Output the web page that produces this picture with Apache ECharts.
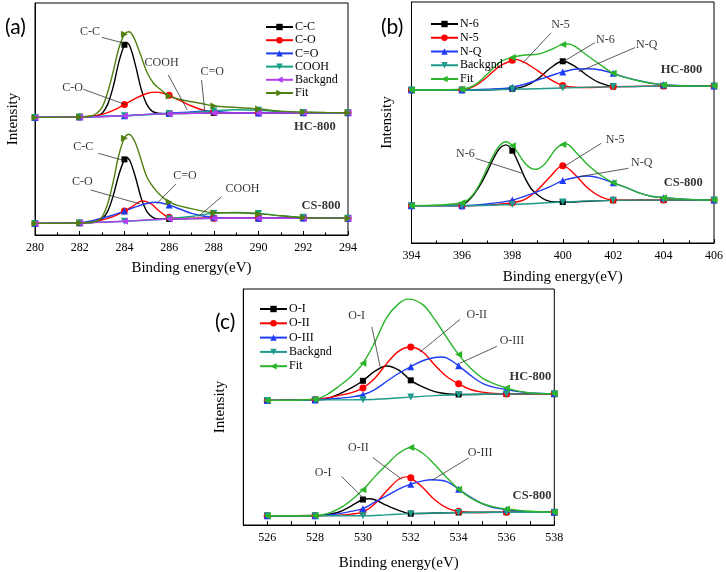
<!DOCTYPE html>
<html><head><meta charset="utf-8">
<script src="https://cdn.jsdelivr.net/npm/echarts@6/dist/echarts.min.js"></script>
<style>html,body{margin:0;padding:0;background:#fff}#c{width:726px;height:572px}</style>
</head><body><div id="c"></div>
<script>
// ---------- Panel (a): C1s ----------
const a_names = ['C-C','C-O','C=O','COOH','Backgnd','Fit'];
const a_HC_CC = [[280,50.7],[282,50.9],[282.5,51.0],[282.75,51.3],[283,52.5],[283.25,56.3],[283.5,64.0],[283.75,74.5],[284,82.0],[284.1,82.8],[284.25,81.2],[284.5,72.9],[284.75,62.9],[285,56.3],[285.25,53.3],[285.5,52.5],[285.75,52.3],[286,52.3],[288,52.6],[290,52.6],[292,52.7],[294,52.7]];
const a_HC_CO = [[280,50.7],[282,50.9],[282.5,51.2],[283,52.0],[283.5,53.7],[284,56.2],[284.5,58.9],[285,61.0],[285.4,61.6],[285.75,61.1],[286,60.2],[286.5,57.9],[287,55.6],[287.5,53.9],[288,53.0],[288.5,52.7],[289,52.6],[290,52.6],[292,52.7],[294,52.7]];
const a_HC_CdO = [[280,50.7],[282,50.9],[284,51.4],[285,52.0],[286,52.5],[287,53.0],[287.7,53.5],[288,53.3],[288.5,52.9],[289,52.6],[290,52.6],[292,52.7],[294,52.7]];
const a_HC_COOH = [[280,50.7],[282,50.9],[284,51.4],[286,52.3],[287,52.7],[288,53.5],[289,54.0],[290,53.8],[291,53.2],[292,52.8],[294,52.7]];
const a_HC_BG = [[280,50.7],[282,50.9],[283,51.0],[284,51.4],[285,52.0],[286,52.3],[288,52.6],[290,52.6],[292,52.7],[294,52.7]];
const a_HC_FIT = [[280,50.7],[282,50.9],[282.5,51.3],[282.75,52.4],[283,55.0],[283.25,61.5],[283.5,70.5],[283.75,80.5],[284,86.5],[284.2,87.6],[284.4,85.5],[284.7,78.3],[285,70.4],[285.3,65.4],[285.6,62.8],[286,59.9],[286.6,58.2],[287.4,56.8],[288,55.6],[289,55.0],[290,54.3],[291,53.4],[292,53.0],[293,52.8],[294,52.7]];
const a_CS_CC = [[280,5.0],[282,5.2],[282.5,5.3],[282.75,5.7],[283,6.9],[283.25,10.2],[283.5,17.0],[283.75,26.0],[284,32.6],[284.1,33.3],[284.25,31.9],[284.5,24.7],[284.75,15.9],[285,10.2],[285.25,7.7],[285.5,6.9],[286,6.9],[288,7.2],[290,7.2],[292,7.3],[294,7.2]];
const a_CS_CO = [[280,5.0],[282,5.2],[282.5,5.6],[283,6.5],[283.5,7.9],[284,10.3],[284.4,12.6],[284.8,14.7],[285.2,13.4],[285.5,10.8],[285.8,8.6],[286,7.6],[286.5,7.2],[288,7.2],[290,7.2],[292,7.3],[294,7.2]];
const a_CS_CdO = [[280,5.0],[282,5.3],[283,7.2],[283.5,8.6],[284,10.3],[284.5,12.1],[285,13.6],[285.4,14.1],[286,12.9],[286.5,11.1],[287,9.3],[287.5,8.2],[288,7.6],[289,7.2],[290,7.2],[292,7.3],[294,7.2]];
const a_CS_COOH = [[280,5.0],[282,5.2],[284,5.9],[286,7.0],[287,8.0],[288,9.3],[289,9.7],[290,9.3],[291,8.3],[292,7.6],[293,7.3],[294,7.2]];
const a_CS_BG = [[280,5.0],[282,5.2],[283,5.5],[284,5.9],[285,6.5],[286,6.9],[288,7.2],[290,7.2],[292,7.3],[294,7.2]];
const a_CS_FIT = [[280,5.0],[282,5.2],[282.5,5.5],[282.75,6.0],[283,7.8],[283.25,13.5],[283.5,23.0],[283.75,34.5],[284,41.7],[284.2,43.4],[284.45,40.5],[284.7,33.8],[285,25.1],[285.3,20.5],[285.6,17.2],[286,14.2],[286.6,12.2],[287.4,10.5],[288,9.6],[289,9.6],[290,9.1],[291,8.3],[292,7.5],[293,7.3],[294,7.2]];
const a_labels = [['C-C',282.46,87.4],['C-O',281.68,63.6],['COOH',285.66,74.0],['C=O',287.93,70.4],['C-C',282.16,38.1],['C-O',282.12,23.0],['C=O',286.71,25.4],['COOH',289.28,20.1]];
const a_arrows = [[284.02,82.6,282.98,85.2],[284.05,56.2,282.16,62.8],[286.81,53.9,285.96,69.0],[287.59,53.6,287.45,66.8],[284.02,32.0,282.83,35.2],[284.69,13.4,282.49,19.4],[285.44,13.4,286.30,22.0],[287.30,7.9,288.35,16.5]];
const a_samples = [['HC-800',292.52,46.7],['CS-800',292.79,12.5]];

// ---------- Panel (b): N1s ----------
const b_names = ['N-6','N-5','N-Q','Backgnd','Fit'];
const b_HC_N6 = [[394,63.5],[396,63.5],[398,64.0],[398.5,65.1],[399,68.0],[399.5,72.5],[400,75.4],[400.5,73.2],[401,69.3],[401.5,66.3],[402,65.0],[402.5,64.9],[404,65.1],[406,65.1]];
const b_HC_N5 = [[394,63.5],[396,63.6],[396.5,65.1],[397,68.9],[397.5,73.4],[398,75.8],[398.15,76.2],[398.5,74.8],[399,71.5],[399.5,67.9],[400,65.4],[400.5,64.6],[401,64.5],[402,64.9],[404,65.1],[406,65.1]];
const b_HC_NQ = [[394,63.5],[396,63.5],[397,63.8],[398,64.6],[399,67.6],[399.5,69.3],[400,71.0],[400.5,72.1],[401,72.3],[401.5,71.8],[402,70.4],[402.5,68.7],[403,67.4],[403.5,66.3],[404,65.7],[405,65.2],[406,65.1]];
const b_HC_BG = [[394,63.5],[396,63.5],[398,63.8],[400,64.3],[402,64.9],[404,65.1],[406,65.1]];
const b_HC_FIT = [[394,63.5],[396,63.8],[396.5,65.5],[397,70.0],[397.5,75.0],[398,77.0],[398.5,78.0],[399,78.3],[399.5,80.1],[400,82.4],[400.25,82.6],[400.5,81.5],[401,77.6],[401.5,73.9],[402,70.4],[402.5,68.6],[403,67.3],[403.5,66.3],[404,65.6],[405,65.2],[406,65.1]];
const b_CS_N6 = [[394,15.5],[396,15.8],[396.25,17.5],[396.5,20.5],[396.75,24.5],[397,29.5],[397.25,35.0],[397.5,39.3],[397.75,40.7],[398,38.3],[398.25,33.0],[398.5,27.0],[398.75,22.5],[399,20.0],[399.33,17.8],[399.75,17.0],[400,17.0],[402,17.7],[404,17.8],[406,17.8]];
const b_CS_N5 = [[394,15.5],[396,15.4],[397,15.7],[398,16.7],[398.5,18.1],[399,22.0],[399.5,27.5],[400,32.1],[400.5,28.2],[401,22.7],[401.5,19.2],[402,17.8],[403,17.8],[404,17.8],[406,17.8]];
const b_CS_NQ = [[394,15.5],[396,15.5],[397,16.2],[398,17.8],[399,21.3],[399.5,23.4],[400,25.9],[400.5,27.2],[401,27.8],[401.5,26.8],[402,25.0],[402.5,23.1],[403,20.9],[403.5,19.4],[404,18.8],[405,18.1],[406,17.8]];
const b_CS_BG = [[394,15.5],[396,15.4],[398,16.0],[400,17.0],[402,17.7],[404,17.8],[406,17.8]];
const b_CS_FIT = [[394,15.5],[396,16.7],[396.5,20.9],[397,31.0],[397.25,36.5],[397.5,40.5],[397.75,42.0],[398,40.4],[398.25,36.9],[398.5,33.1],[398.75,31.0],[398.95,30.6],[399.25,32.4],[399.5,35.8],[399.75,39.3],[400,40.9],[400.15,41.1],[400.5,37.9],[401,32.4],[401.5,28.2],[402,25.0],[402.5,23.1],[403,20.9],[403.5,19.4],[404,18.8],[405,18.1],[406,17.8]];
const b_labels = [['N-5',399.91,90.5],['N-6',401.69,84.5],['N-Q',403.33,82.2],['N-6',396.14,36.9],['N-5',402.08,43.0],['N-Q',403.13,33.1]];
const b_arrows = [[398.40,74.5,399.52,87.0],[399.98,75.0,401.27,83.1],[400.64,71.1,402.87,81.1],[398.40,28.9,396.54,35.1],[400.05,31.7,401.53,41.4],[400.64,27.5,402.61,31.0]];
const b_samples = [['HC-800',404.71,71.8],['CS-800',404.78,25.0]];

// ---------- Panel (c): O1s ----------
const c_names = ['O-I','O-II','O-III','Backgnd','Fit'];
const c_ticks = [526,528,530,532,534,536,538];
const c_HC_OI = [[526,52.8],[527,52.9],[528,53.0],[528.5,53.6],[529,55.5],[529.5,58.0],[530,61.1],[530.5,65.2],[531,67.4],[531.5,65.6],[532,61.3],[532.5,58.5],[533,56.5],[533.5,55.6],[534,55.3],[536,55.5],[538,55.6]];
const c_HC_OII = [[526,52.8],[528,53.2],[528.5,53.8],[529,54.9],[529.5,56.0],[530,58.1],[530.5,62.2],[531,68.5],[531.5,73.7],[532,75.4],[532.5,73.3],[533,67.8],[533.5,62.9],[534,59.8],[534.5,57.4],[535,56.3],[535.5,55.7],[536,55.5],[538,55.6]];
const c_HC_OIII = [[526,52.8],[528,53.0],[529,53.7],[529.5,54.2],[530,55.2],[530.5,57.4],[531,60.9],[531.5,64.3],[532,67.1],[532.5,69.6],[533,71.0],[533.25,71.2],[533.5,70.8],[534,67.5],[534.5,63.4],[535,60.0],[535.5,58.3],[536,57.4],[536.5,56.5],[537,56.0],[538,55.6]];
const c_HC_BG = [[526,52.8],[528,53.0],[530,53.1],[531,53.5],[532,54.2],[533,54.8],[534,55.2],[536,55.5],[538,55.6]];
const c_HC_FIT = [[526,52.8],[528,53.3],[528.5,55.3],[529,58.8],[529.5,62.9],[530,68.5],[530.5,77.5],[531,88.0],[531.5,93.8],[531.9,95.7],[532.5,93.4],[533,87.1],[533.5,79.5],[534,72.2],[534.5,66.4],[535,62.2],[535.5,59.8],[536,58.1],[536.5,56.7],[537,56.0],[538,55.6]];
const c_CS_OI = [[526,3.9],[528,4.0],[528.5,4.4],[529,5.5],[529.5,8.0],[530,10.8],[530.25,11.1],[530.5,10.7],[531,8.3],[531.5,6.2],[532,4.8],[532.5,4.9],[534,5.3],[536,5.4],[538,5.4]];
const c_CS_OII = [[526,3.9],[528,3.9],[529,4.1],[529.5,4.6],[530,5.5],[530.5,9.0],[531,14.5],[531.5,19.4],[531.9,20.5],[532,20.0],[532.5,15.9],[533,10.7],[533.5,7.3],[534,5.8],[534.5,5.4],[535,5.3],[536,5.4],[538,5.4]];
const c_CS_OIII = [[526,3.9],[528,3.9],[529,4.8],[529.5,5.8],[530,6.9],[530.5,9.7],[531,12.4],[531.5,15.2],[532,17.3],[532.5,18.7],[532.9,19.2],[533.5,18.4],[534,15.2],[534.5,11.8],[535,9.0],[535.5,7.3],[536,6.6],[536.5,5.9],[537,5.5],[538,5.4]];
const c_CS_BG = [[526,3.9],[528,3.9],[530,3.9],[531,4.3],[532,4.8],[533,5.1],[534,5.3],[536,5.4],[538,5.4]];
const c_CS_FIT = [[526,3.9],[528,3.9],[528.5,4.8],[529,6.9],[529.5,10.4],[530,14.9],[530.5,20.5],[531,25.6],[531.5,30.4],[532,32.8],[532.5,30.4],[533,25.6],[533.5,20.1],[534,15.2],[534.5,11.5],[535,9.0],[535.5,7.6],[536,6.8],[537,5.8],[538,5.4]];
const c_labels = [['O-I',529.74,88.5],['O-II',534.76,89.2],['O-III',536.23,77.9],['O-I',528.34,22.1],['O-II',529.81,32.5],['O-III',534.90,30.7]];
const c_arrows = [[530.72,67.1,530.37,84.0],[532.39,73.3,534.06,87.1],[534.04,68.5,535.60,75.7],[530.09,10.7,529.11,20.5],[531.62,19.4,530.41,28.6],[532.88,18.9,534.42,28.4]];
const c_samples = [['HC-800',537.0,62.7],['CS-800',537.07,12.4]];

// ---------- styles ----------
const SERIF = '"Liberation Serif","DejaVu Serif",serif';
const tri = 'triangle';
const STY = {
  black:{color:'#000000',symbol:'rect',size:6,rot:0},
  red:{color:'#ff0000',symbol:'circle',size:7,rot:0},
  blue:{color:'#1f3cf5',symbol:tri,size:7,rot:0},
  tealDown:{color:'#16a085',symbol:tri,size:7,rot:180},
  magLeft:{color:'#b340f0',symbol:tri,size:7,rot:90},
  oliveRight:{color:'#4f8010',symbol:tri,size:7,rot:-90},
  tealDown2:{color:'#1f9a8a',symbol:tri,size:7,rot:180},
  greenLeft:{color:'#2bb52b',symbol:tri,size:7,rot:90}
};
function isMark(x){ return Math.abs(x/2 - Math.round(x/2)) < 1e-6; }
function mk(panel, name, data, gi, st){
  return {
    type:'line', name: panel+'|'+name, xAxisIndex:gi, yAxisIndex:gi, data:data,
    smooth:0.35, showAllSymbol:true, symbol:st.symbol, symbolRotate:st.rot,
    symbolSize:function(v){ return isMark(v[0]) ? st.size : 0; },
    lineStyle:{color:st.color,width:1.4}, itemStyle:{color:st.color},
    emphasis:{disabled:true}, silent:true
  };
}
function notes(gi, labels, arrows, samples){
  const d = labels.map(l => ({value:[l[1],l[2],l[0]]}))
    .concat(samples.map(s => ({value:[s[1],s[2],s[0]], label:{fontWeight:'bold',fontSize:12.5}})));
  return {
    type:'scatter', xAxisIndex:gi, yAxisIndex:gi, data:d, symbolSize:0, silent:true, z:20,
    label:{show:true, position:'inside', formatter:p=>p.value[2], color:'#000', fontFamily:SERIF, fontSize:12},
    markLine:{silent:true, symbol:['none','arrow'], symbolSize:[0,6], animation:false,
      lineStyle:{color:'#333',width:0.8,type:'solid'}, label:{show:false},
      data: arrows.map(a => [{coord:[a[0],a[1]]},{coord:[a[2],a[3]]}])}
  };
}
const series = [];
const aSt = [STY.black,STY.red,STY.blue,STY.tealDown,STY.magLeft,STY.oliveRight];
[[a_HC_CC,a_HC_CO,a_HC_CdO,a_HC_COOH,a_HC_BG,a_HC_FIT],[a_CS_CC,a_CS_CO,a_CS_CdO,a_CS_COOH,a_CS_BG,a_CS_FIT]]
  .forEach(set => set.forEach((d,i) => series.push(mk('a',a_names[i],d,0,aSt[i]))));
const bSt = [STY.black,STY.red,STY.blue,STY.tealDown2,STY.greenLeft];
[[b_HC_N6,b_HC_N5,b_HC_NQ,b_HC_BG,b_HC_FIT],[b_CS_N6,b_CS_N5,b_CS_NQ,b_CS_BG,b_CS_FIT]]
  .forEach(set => set.forEach((d,i) => series.push(mk('b',b_names[i],d,1,bSt[i]))));
[[c_HC_OI,c_HC_OII,c_HC_OIII,c_HC_BG,c_HC_FIT],[c_CS_OI,c_CS_OII,c_CS_OIII,c_CS_BG,c_CS_FIT]]
  .forEach(set => set.forEach((d,i) => series.push(mk('c',c_names[i],d,2,bSt[i]))));
series.push(notes(0,a_labels,a_arrows,a_samples));
series.push(notes(1,b_labels,b_arrows,b_samples));
series.push(notes(2,c_labels,c_arrows,c_samples));

const grids = [
  {left:35, top:3, width:313, height:232},
  {left:411.5, top:2, width:305, height:241},
  {left:243.3, top:289, width:311, height:241}
].map(g => Object.assign(g,{show:true,borderColor:'#000',borderWidth:1,containLabel:false}));

function xAx(gi, min, max, interval, gap, fmt){
  return {type:'value', gridIndex:gi, min:min, max:max, interval:interval,
    name:'Binding energy(eV)', nameLocation:'middle', nameGap:gap,
    nameTextStyle:{fontFamily:SERIF,fontSize:15,color:'#000'},
    axisLine:{lineStyle:{color:'#000',width:1}},
    axisTick:{inside:true,length:4,lineStyle:{color:'#000'}},
    minorTick:{show: interval===2, splitNumber:2, length:2.5, lineStyle:{color:'#000'}},
    splitLine:{show:false},
    axisLabel:{fontFamily:SERIF,fontSize:12,color:'#000',margin:7, formatter:fmt}};
}
function yAx(gi, gap){
  return {type:'value', gridIndex:gi, min:0, max:100, name:'Intensity', nameLocation:'middle', nameGap:gap,
    nameTextStyle:{fontFamily:SERIF,fontSize:15,color:'#000'},
    axisLine:{lineStyle:{color:'#000',width:1}}, axisTick:{show:false}, axisLabel:{show:false}, splitLine:{show:false}};
}
function lg(panel, names, left, top, gap){
  return {orient:'vertical', left:left, top:top, itemWidth:27, itemHeight:8, itemGap:gap,
    data:names.map(n=>panel+'|'+n), formatter:n=>n.split('|')[1], selectedMode:false,
    textStyle:{fontFamily:SERIF,fontSize:12,color:'#000',lineHeight:13,padding:[0,0,0,-3]}};
}
const chart = echarts.init(document.getElementById('c'), null, {renderer:'canvas'});
chart.setOption({
  animation:false, backgroundColor:'#fff',
  title:[
    {text:'(a)',left:0,top:12,textStyle:{fontFamily:'Lato',fontSize:21,fontWeight:'normal',color:'#000'}},
    {text:'(b)',left:376,top:12,textStyle:{fontFamily:'Lato',fontSize:21,fontWeight:'normal',color:'#000'}},
    {text:'(c)',left:210,top:307,textStyle:{fontFamily:'Lato',fontSize:21,fontWeight:'normal',color:'#000'}}
  ],
  grid:grids,
  xAxis:[xAx(0,280,294,2,26), xAx(1,394,406,2,27), xAx(2,525,538,1,31, v => c_ticks.indexOf(v)>=0 ? String(v) : '')],
  yAxis:[yAx(0,14),yAx(1,17),yAx(2,16)],
  legend:[lg('a',a_names,260,15.5,0.2), lg('b',b_names,425,12.5,0.75), lg('c',c_names,254,297.5,1.3)],
  series:series
});
</script></body></html>
